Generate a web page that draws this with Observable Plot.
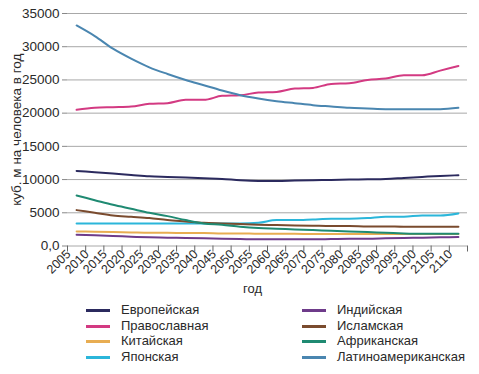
<!DOCTYPE html>
<html>
<head>
<meta charset="utf-8">
<script src="https://cdn.jsdelivr.net/npm/d3@7"></script>
<script src="https://cdn.jsdelivr.net/npm/@observablehq/plot@0.6"></script>
<style>
  body { margin: 0; background: #fff; font-family: "Liberation Sans", Arial, sans-serif; }
  #chart { position: relative; width: 479px; height: 374px; }
  .legend { position: absolute; left: 0; top: 302px; width: 479px; font-size: 13px; color: #2a2a2a; }
  .item { position: absolute; height: 16px; line-height: 16px; white-space: nowrap; }
  .sw { position: absolute; left: 0; top: 7px; width: 24px; height: 3px; }
  .lb { position: absolute; left: 35px; top: 0; }
</style>
</head>
<body>
<div id="chart"></div>
<script>
const years = [2005,2010,2015,2020,2025,2030,2035,2040,2045,2050,2055,2060,2065,2070,2075,2080,2085,2090,2095,2100,2105,2110];

const seriesNames = ["Европейская","Православная","Китайская","Японская","Индийская","Исламская","Африканская","Латиноамериканская"];
const seriesColors = ["#2b2a5e","#d33a82","#e8ad52","#2bb6da","#6e3b8a","#7a4b2e","#1f8a72","#4a86b0"];

const european   = [11300,11100,10900,10700,10500,10400,10300,10200,10100,9900,9800,9800,9850,9900,9950,10000,10050,10100,10250,10400,10550,10650];
const orthodox   = [20500,20800,20900,21000,21400,21500,22000,22000,22600,22700,23100,23200,23700,23800,24400,24500,25000,25200,25700,25700,26400,27100];
const chinese    = [2200,2150,2100,2050,2000,2000,1950,1950,1900,1900,1850,1850,1850,1800,1800,1800,1800,1800,1800,1800,1800,1800];
const japanese   = [3400,3400,3400,3400,3400,3400,3400,3400,3400,3400,3500,3900,3900,4000,4100,4100,4200,4400,4400,4600,4600,4900];
const indian     = [1700,1600,1500,1400,1300,1250,1200,1150,1100,1050,1000,1000,1000,1000,1050,1100,1100,1150,1200,1250,1300,1350];
const islamic    = [5400,5000,4600,4400,4200,3900,3700,3500,3400,3300,3200,3150,3100,3050,3000,3000,2950,2950,2900,2900,2900,2900];
const african    = [7600,6900,6200,5600,5000,4500,3900,3400,3200,2900,2700,2600,2500,2400,2300,2200,2100,2000,1900,1850,1850,1850];
const latinAm    = [33200,31600,29700,28200,26900,25900,25000,24200,23400,22700,22200,21800,21500,21200,21000,20800,20700,20600,20600,20600,20600,20800];

const yTicks = [0,5000,10000,15000,20000,25000,30000,35000];
const yTitle = "куб. м на человека в год";
const xTitle = "год";

const allValues = [european, orthodox, chinese, japanese, indian, islamic, african, latinAm];
const data = [];
seriesNames.forEach((name, i) => {
  years.forEach((yr, j) => data.push({series: name, year: yr, value: allValues[i][j]}));
});

const step = years[1] - years[0];
const boundaries = years.map(y => y - step / 2).concat([years[years.length - 1] + step / 2]);

const chart = Plot.plot({
  width: 479,
  height: 300,
  marginLeft: 67,
  marginRight: 12,
  marginTop: 13,
  marginBottom: 54.5,
  style: {fontFamily: '"Liberation Sans", Arial, sans-serif', fontSize: "12px", color: "#2a2a2a", background: "#fff"},
  x: {type: "linear", domain: [boundaries[0], boundaries[boundaries.length - 1]]},
  y: {domain: [0, 35000]},
  color: {domain: seriesNames, range: seriesColors},
  marks: [
    Plot.ruleY(yTicks, {stroke: "#a8a8a8", strokeWidth: 1}),
    Plot.axisY({
      ticks: yTicks,
      tickFormat: d => d === 0 ? "0,0" : String(d),
      tickSize: 5,
      tickPadding: 3,
      line: true,
      stroke: "#888",
      fontSize: 13.5,
      label: yTitle,
      labelAnchor: "center",
      labelArrow: "none",
      labelOffset: 56
    }),
    Plot.axisX(boundaries, {tickFormat: () => "", tickSize: 6, line: true, stroke: "#666", label: null}),
    Plot.axisX(years, {tickSize: 0, tickPadding: 6, tickRotate: -45, tickFormat: d => String(d), dx: -8, fontSize: 12.5, label: null}),
    Plot.text([xTitle], {frameAnchor: "bottom", dx: -15, dy: 47, fontSize: 13, fill: "#2a2a2a"}),
    Plot.line(data, {x: "year", y: "value", z: "series", stroke: "series", strokeWidth: 2, curve: "monotone-x"})
  ]
});

const root = document.getElementById("chart");
root.appendChild(chart);

const legend = document.createElement("div");
legend.className = "legend";
const colLeft = [86, 302];
const rowTop = [0, 15.7, 31.4, 47.1];
seriesNames.forEach((name, i) => {
  const col = Math.floor(i / 4), row = i % 4;
  const item = document.createElement("div");
  item.className = "item";
  item.style.left = colLeft[col] + "px";
  item.style.top = rowTop[row] + "px";
  const sw = document.createElement("span");
  sw.className = "sw";
  sw.style.background = seriesColors[i];
  const lb = document.createElement("span");
  lb.className = "lb";
  lb.textContent = name;
  item.appendChild(sw);
  item.appendChild(lb);
  legend.appendChild(item);
});
root.appendChild(legend);
</script>
</body>
</html>
